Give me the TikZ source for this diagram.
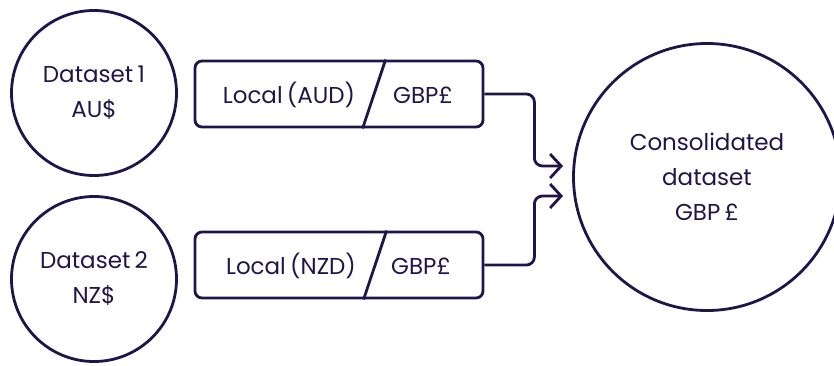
\documentclass[tikz,border=0pt]{standalone}
\usepackage{fontspec}
\setmainfont[WordSpace=0.7]{Poppins}
\usetikzlibrary{calc}
\usetikzlibrary{arrows.meta}
\definecolor{navy}{RGB}{30,22,74}

\tikzset{
  dataset/.style={circle,draw=navy,line width=2.8pt,inner sep=0pt,minimum size=165pt,align=center,text=navy},
  curbox/.style={draw=navy,line width=2.8pt,rounded corners=7pt,minimum width=288pt,minimum height=66pt,inner sep=0pt},
  lbl/.style={text=navy,inner sep=0pt},
  flow/.style={draw=navy,line width=2.8pt,rounded corners=8pt,-{Straight Barb[length=11pt,width=24pt]}}
}

\begin{document}
\begin{tikzpicture}[x=1pt,y=-1pt,font=\fontsize{23}{35}\selectfont]

\useasboundingbox (0,0) rectangle (834,365);

\node[dataset] (ds1) at (94,93) {Dataset 1\\AU\$};
\node[dataset] (ds2) at (94,279) {Dataset 2\\NZ\$};
\node[dataset,minimum size=267pt] (cons) at (707,177) {Consolidated\\dataset\\GBP £};

\node[curbox] (box1) at (339,94) {};
\node[curbox] (box2) at (339,265) {};

\node[lbl] (loc1) at (289,95) {Local (AUD)};
\node[lbl] (gbp1) at (423,95) {GBP£};
\node[lbl] (loc2) at (291,266) {Local (NZD)};
\node[lbl] (gbp2) at (421,266) {GBP£};

% slash between the two parts
\draw[navy,line width=2.8pt] ($(box1.north west)+(192,0)$) -- ($(box1.south west)+(169,0)$);
\draw[navy,line width=2.8pt] ($(box2.north west)+(193,0)$) -- ($(box2.south west)+(170,0)$);

\coordinate (in1) at (563,166);
\coordinate (in2) at (563,196);

\draw[flow] (box1.east) -- ++(50,0) |- (in1);
\draw[flow] (box2.east) -- ++(50,0) |- (in2);

\end{tikzpicture}
\end{document}
